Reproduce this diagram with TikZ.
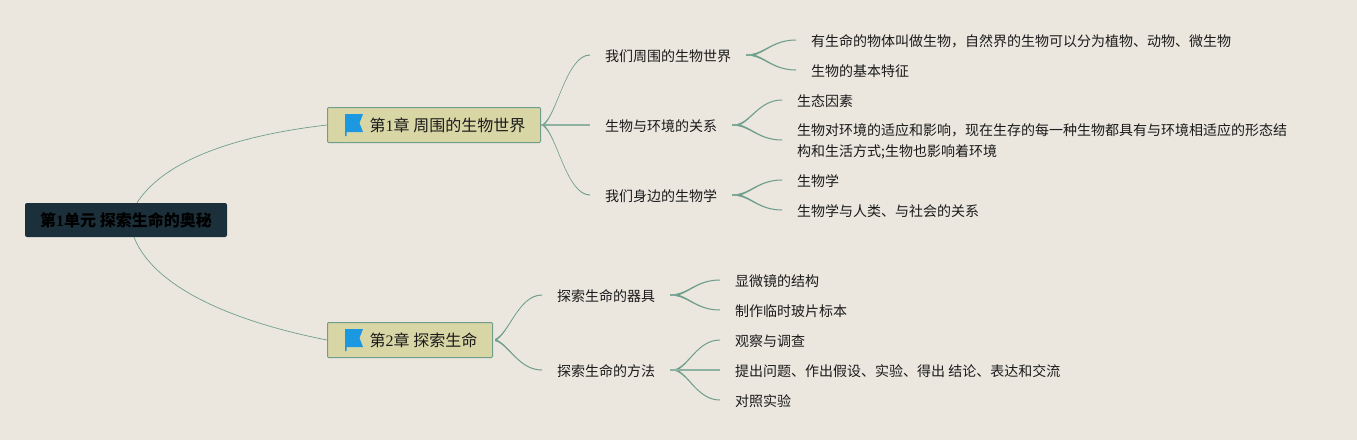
\documentclass[tikz,border=0pt]{standalone}
\usepackage{fontspec}
\usetikzlibrary{calc}
\setmainfont{Liberation Serif}
\newfontfamily\cjk{Noto Sans CJK SC}
\definecolor{bgc}{HTML}{EBE7DF}
\definecolor{linec}{HTML}{6F9F8C}
\definecolor{boxc}{HTML}{D9D6A6}
\definecolor{rootc}{HTML}{1C303B}
\definecolor{flagc}{HTML}{1B98E0}
\definecolor{textc}{HTML}{1A1A1A}
\tikzset{
  px/.style={x=1pt,y=-1pt},
  rootbox/.style={draw=none,fill=rootc,rounded corners=2pt,minimum width=202pt,minimum height=34pt,inner sep=0pt,font=\fontsize{16}{20}\selectfont\bfseries,text=black},
  chapbox/.style={draw=linec,line width=1pt,fill=boxc,rounded corners=1pt,minimum height=35pt,inner sep=0pt,anchor=west},
  chaptext/.style={anchor=west,inner sep=0pt,font=\fontsize{16}{20}\selectfont,text=textc},
  leaf/.style={anchor=west,inner sep=0pt,align=left,font=\fontsize{14}{21}\selectfont\cjk,text=textc},
  thinlink/.style={draw=linec,line width=0.7pt},
  flatlink/.style={draw=linec!75!bgc,line width=1.6pt},
  stemlink/.style={draw=linec!85!bgc,line width=1.8pt},
  flagicon/.pic={
    \fill[flagc] (0,0) -- (18,0) -- (14.5,9) -- (18,18) -- (1.5,18) -- (1.5,22) -- (0,22) -- cycle;
  }
}
% tapered S-curve from #1 (thick) to #2 (thin)
\newcommand{\taper}[2]{%
  \fill[linec] let \p1=(#1), \p2=(#2),
    \n1={\x1+0.3*(\x2-\x1)}, \n2={\y1+0.14*(\y2-\y1)}, \n3={\x2-0.5*(\x2-\x1)} in
    (\x1,\y1+1pt) .. controls (\n1,\n2+0.9pt) and (\n3,\y2+0.55pt) .. (\x2,\y2+0.5pt)
    -- (\x2,\y2-0.5pt) .. controls (\n3,\y2-0.55pt) and (\n1,\n2-0.9pt) .. (\x1,\y1-1pt) -- cycle;}
\begin{document}
\begin{tikzpicture}[px]
\useasboundingbox (0,0) rectangle (1357,440);
\fill[bgc] (0,0) rectangle (1357,440);

% nodes
\node[rootbox] (root) at (126,220) {\raisebox{-0.5pt}{{\cjk 第}1{\cjk 单元 探索生命的奥秘}}};
\node[chapbox,minimum width=213pt] (c1) at (327,125) {};
\node[chapbox,minimum width=165pt] (c2) at (327,340) {};
\pic at (345,114) {flagicon};
\pic at (345,329) {flagicon};
\node[chaptext] (c1t) at (369.5,125.5) {{\cjk 第}1{\cjk 章 周围的生物世界}};
\node[chaptext] (c2t) at (369.5,340.5) {{\cjk 第}2{\cjk 章 探索生命}};

\node[leaf] (a1) at (605,56) {我们周围的生物世界};
\node[leaf] (a2) at (605,126) {生物与环境的关系};
\node[leaf] (a3) at (605,196) {我们身边的生物学};
\node[leaf] (b1) at (557,296) {探索生命的器具};
\node[leaf] (b2) at (557,371) {探索生命的方法};

\node[leaf] (a11) at (811,41) {有生命的物体叫做生物，自然界的生物可以分为植物、动物、微生物};
\node[leaf] (a12) at (811,71) {生物的基本特征};
\node[leaf] (a21) at (797,101) {生态因素};
\node[leaf] (a22) at (797,141) {生物对环境的适应和影响，现在生存的每一种生物都具有与环境相适应的形态结\\构和生活方式;生物也影响着环境};
\node[leaf] (a31) at (797,181) {生物学};
\node[leaf] (a32) at (797,211) {生物学与人类、与社会的关系};
\node[leaf] (b11) at (735,281) {显微镜的结构};
\node[leaf] (b12) at (735,311) {制作临时玻片标本};
\node[leaf] (b21) at (735,341) {观察与调查};
\node[leaf] (b22) at (735,371) {提出问题、作出假设、实验、得出 结论、表达和交流};
\node[leaf] (b23) at (735,401) {对照实验};

% root connectors
\draw[thinlink] ([xshift=11pt]root.north) .. controls +(28,-44) and +(-87,10) .. (c1.west);
\draw[thinlink] ([xshift=8pt]root.south) .. controls +(21,53) and +(-87,-17) .. (c2.west);

% level 1 connectors
\taper{$(c1.east)+(2pt,0)$}{$(a1.west)+(-15pt,1pt)$}
\draw[flatlink] (c1.east) -- ($(a2.west)+(-15pt,1pt)$);
\taper{$(c1.east)+(2pt,0)$}{$(a3.west)+(-15pt,1pt)$}
\taper{$(c2.east)+(2pt,0)$}{$(b1.west)+(-15pt,1pt)$}
\taper{$(c2.east)+(2pt,0)$}{$(b2.west)+(-15pt,1pt)$}

% level 2 connectors
\foreach \mum/\kid in {a1/a11,a1/a12,a2/a21,a2/a22,a3/a31,a3/a32,b1/b11,b1/b12,b2/b21,b2/b23}{
  \draw[stemlink] ($(\mum.east)+(15pt,1pt)$) -- ($(\mum.east)+(23pt,1pt)$);
  \taper{$(\mum.east)+(20pt,1pt)$}{$(\kid.west)+(-15pt,1pt)$}
}
\draw[stemlink] ($(b2.east)+(15pt,1pt)$) -- ($(b2.east)+(23pt,1pt)$);
\draw[flatlink] ($(b2.east)+(15pt,1pt)$) -- ($(b22.west)+(-15pt,1pt)$);
\end{tikzpicture}
\end{document}
